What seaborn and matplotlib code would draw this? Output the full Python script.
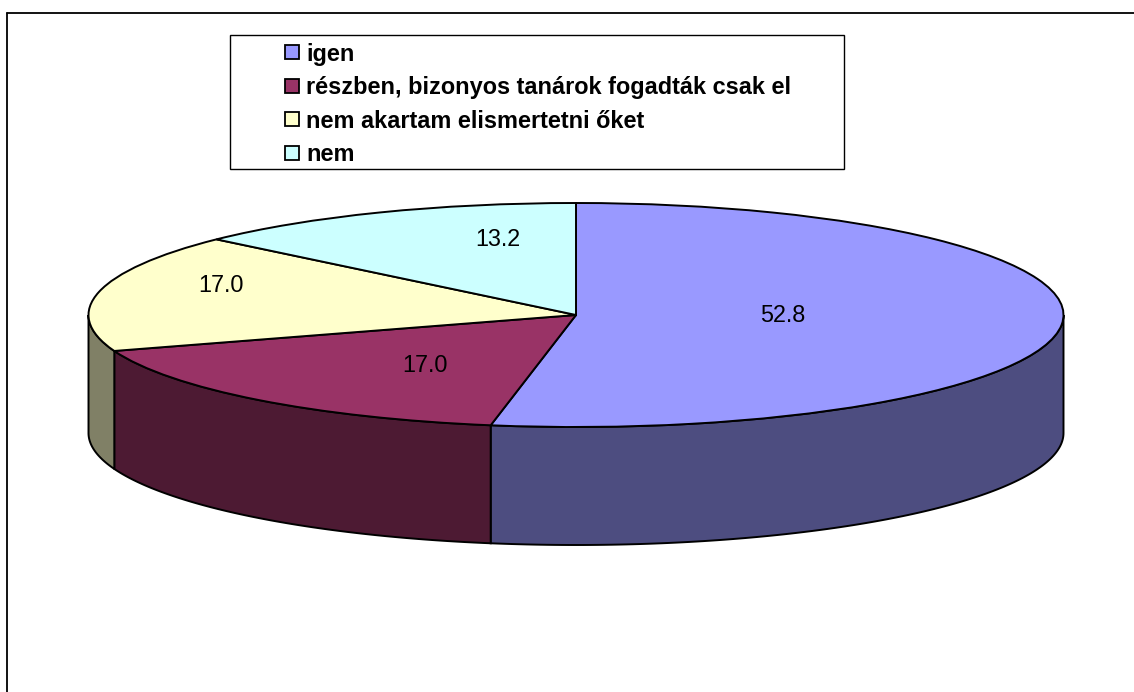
import numpy as np
import matplotlib
matplotlib.use('Agg')
import matplotlib.pyplot as plt
import seaborn as sns
from matplotlib.lines import Line2D
from matplotlib.patches import Patch, Rectangle

# data
categories = ['igen', 'részben, bizonyos tanárok fogadták csak el',
              'nem akartam elismertetni őket', 'nem']
values = [52.8, 17.0, 17.0, 13.2]
hex_colors = ['#9999FF', '#993366', '#FFFFCC', '#CCFFFF']

W, H = 1134, 692
CX, CY = 576, 315     # pie centre in pixels
RX, RY = 487.5, 112   # ellipse radii
DEPTH = 118 / RY      # wall height, in data units

sns.set_theme(style='white', font='Liberation Sans')
plt.rcParams['font.family'] = ['Liberation Sans', 'DejaVu Sans']
colors = sns.color_palette(hex_colors)
dark_colors = [tuple(c * 0.5 for c in col) for col in colors]


def fx(px):
    return px / W


def fy(py):
    return 1 - py / H


fig = plt.figure(figsize=(W / 100, H / 100), dpi=100, facecolor='white')
ax = fig.add_axes([0, 0, 1, 1])

# top of the pie
wedges, _ = ax.pie(values, colors=colors, startangle=90, counterclock=False,
                   wedgeprops={'edgecolor': 'black', 'linewidth': 1.4})
for w in wedges:
    w.set_zorder(3)

# squash the circle into an ellipse
ax.set_aspect('auto')
ax.set_xlim(-CX / RX, (W - CX) / RX)
ax.set_ylim((CY - H) / RY, CY / RY)

# side walls, only the front half of the rim
for w, col in zip(wedges, dark_colors):
    lo, hi = max(w.theta1, -180), min(w.theta2, 0)
    if lo >= hi:
        continue
    t = np.radians(np.linspace(lo, hi, 120))
    xs = np.r_[np.cos(t), np.cos(t)[::-1]]
    ys = np.r_[np.sin(t), np.sin(t)[::-1] - DEPTH]
    ax.fill(xs, ys, facecolor=col, edgecolor='black', linewidth=1.4, zorder=2)

# value labels, placed by hand like the original
label_px = [(783, 316), (425, 366), (221, 286), (498, 239)]
for v, (px, py) in zip(values, label_px):
    ax.text((px - CX) / RX, (CY - py) / RY, f'{v:.1f}', ha='center', va='center',
            fontsize=16.8, color='black', zorder=5)

# legend box
fig.add_artist(Rectangle((fx(230), fy(169)), 614 / W, 134 / H, transform=fig.transFigure,
                         facecolor='none', edgecolor='black', linewidth=1.0))
handles = [Patch(facecolor=c, edgecolor='black', linewidth=1.3) for c in colors]
ax.legend(handles, categories, loc='upper left', bbox_to_anchor=(fx(285), fy(42.5)),
          bbox_transform=fig.transFigure, frameon=False, borderpad=0, borderaxespad=0,
          prop={'weight': 'bold', 'size': 16.9}, handlelength=0.6, handleheight=0.55,
          handletextpad=0.3, labelspacing=0.45, labelcolor='black')

# chart border, only top and left show up
fig.add_artist(Line2D([fx(6.5), fx(6.5)], [0, fy(12.5)], transform=fig.transFigure,
                      color='black', linewidth=1.3))
fig.add_artist(Line2D([fx(6.5), 1], [fy(12.5), fy(12.5)], transform=fig.transFigure,
                      color='black', linewidth=1.3))

fig.savefig('out.png', dpi=100)
